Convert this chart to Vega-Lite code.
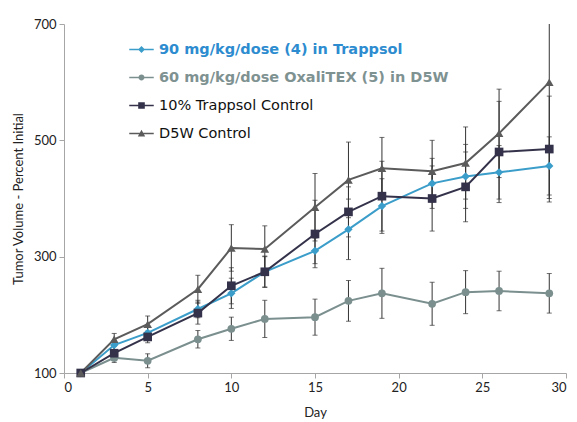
{
  "$schema": "https://vega.github.io/schema/vega-lite/v6.json",
  "width": 502,
  "height": 349,
  "autosize": "none",
  "padding": {"left": 64, "top": 24, "right": 11, "bottom": 49},
  "background": "white",
  "config": {"view": {"stroke": null}, "font": "Lato"},
  "data": {"values": [
    {"series": "90 mg/kg/dose (4) in Trappsol", "day": 1, "value": 100, "err": 0},
    {"series": "90 mg/kg/dose (4) in Trappsol", "day": 3, "value": 148, "err": 8},
    {"series": "90 mg/kg/dose (4) in Trappsol", "day": 5, "value": 169, "err": 12},
    {"series": "90 mg/kg/dose (4) in Trappsol", "day": 8, "value": 210, "err": 15},
    {"series": "90 mg/kg/dose (4) in Trappsol", "day": 10, "value": 237, "err": 26},
    {"series": "90 mg/kg/dose (4) in Trappsol", "day": 12, "value": 274, "err": 26},
    {"series": "90 mg/kg/dose (4) in Trappsol", "day": 15, "value": 310, "err": 22},
    {"series": "90 mg/kg/dose (4) in Trappsol", "day": 17, "value": 347, "err": 52},
    {"series": "90 mg/kg/dose (4) in Trappsol", "day": 19, "value": 387, "err": 47},
    {"series": "90 mg/kg/dose (4) in Trappsol", "day": 22, "value": 426, "err": 43},
    {"series": "90 mg/kg/dose (4) in Trappsol", "day": 24, "value": 438, "err": 55},
    {"series": "90 mg/kg/dose (4) in Trappsol", "day": 26, "value": 445, "err": 46},
    {"series": "90 mg/kg/dose (4) in Trappsol", "day": 29, "value": 456, "err": 50},
    {"series": "60 mg/kg/dose OxaliTEX (5) in D5W", "day": 1, "value": 100, "err": 0},
    {"series": "60 mg/kg/dose OxaliTEX (5) in D5W", "day": 3, "value": 126, "err": 8},
    {"series": "60 mg/kg/dose OxaliTEX (5) in D5W", "day": 5, "value": 121, "err": 12},
    {"series": "60 mg/kg/dose OxaliTEX (5) in D5W", "day": 8, "value": 158, "err": 15},
    {"series": "60 mg/kg/dose OxaliTEX (5) in D5W", "day": 10, "value": 176, "err": 20},
    {"series": "60 mg/kg/dose OxaliTEX (5) in D5W", "day": 12, "value": 193, "err": 32},
    {"series": "60 mg/kg/dose OxaliTEX (5) in D5W", "day": 15, "value": 196, "err": 31},
    {"series": "60 mg/kg/dose OxaliTEX (5) in D5W", "day": 17, "value": 224, "err": 35},
    {"series": "60 mg/kg/dose OxaliTEX (5) in D5W", "day": 19, "value": 237, "err": 43},
    {"series": "60 mg/kg/dose OxaliTEX (5) in D5W", "day": 22, "value": 219, "err": 37},
    {"series": "60 mg/kg/dose OxaliTEX (5) in D5W", "day": 24, "value": 239, "err": 37},
    {"series": "60 mg/kg/dose OxaliTEX (5) in D5W", "day": 26, "value": 241, "err": 34},
    {"series": "60 mg/kg/dose OxaliTEX (5) in D5W", "day": 29, "value": 237, "err": 34},
    {"series": "10% Trappsol Control", "day": 1, "value": 100, "err": 0},
    {"series": "10% Trappsol Control", "day": 3, "value": 134, "err": 12},
    {"series": "10% Trappsol Control", "day": 5, "value": 162, "err": 10},
    {"series": "10% Trappsol Control", "day": 8, "value": 203, "err": 19},
    {"series": "10% Trappsol Control", "day": 10, "value": 250, "err": 31},
    {"series": "10% Trappsol Control", "day": 12, "value": 274, "err": 27},
    {"series": "10% Trappsol Control", "day": 15, "value": 339, "err": 58},
    {"series": "10% Trappsol Control", "day": 17, "value": 377, "err": 43},
    {"series": "10% Trappsol Control", "day": 19, "value": 404, "err": 60},
    {"series": "10% Trappsol Control", "day": 22, "value": 400, "err": 56},
    {"series": "10% Trappsol Control", "day": 24, "value": 420, "err": 60},
    {"series": "10% Trappsol Control", "day": 26, "value": 480, "err": 87},
    {"series": "10% Trappsol Control", "day": 29, "value": 485, "err": 91},
    {"series": "D5W Control", "day": 1, "value": 100, "err": 0},
    {"series": "D5W Control", "day": 3, "value": 158, "err": 10},
    {"series": "D5W Control", "day": 5, "value": 184, "err": 14},
    {"series": "D5W Control", "day": 8, "value": 244, "err": 24},
    {"series": "D5W Control", "day": 10, "value": 315, "err": 40},
    {"series": "D5W Control", "day": 12, "value": 313, "err": 40},
    {"series": "D5W Control", "day": 15, "value": 385, "err": 58},
    {"series": "D5W Control", "day": 17, "value": 432, "err": 65},
    {"series": "D5W Control", "day": 19, "value": 452, "err": 53},
    {"series": "D5W Control", "day": 22, "value": 447, "err": 53},
    {"series": "D5W Control", "day": 24, "value": 461, "err": 62},
    {"series": "D5W Control", "day": 26, "value": 512, "err": 76},
    {"series": "D5W Control", "day": 29, "value": 600, "err": 200}
  ]},
  "encoding": {
    "x": {
      "field": "day", "type": "quantitative",
      "scale": {"domain": [0, 30], "nice": false},
      "axis": {
        "values": [0, 5, 10, 15, 20, 25, 30], "grid": false,
        "domainColor": "#a6a6a6", "tickColor": "#a6a6a6", "tickSize": 5,
        "labelFontSize": 13, "labelColor": "#222222", "labelPadding": 3,
        "title": "Day", "titleFontSize": 13, "titleFontWeight": "normal", "titleColor": "#222222", "titlePadding": 12
      }
    },
    "y": {
      "field": "value", "type": "quantitative",
      "scale": {"domain": [100, 700], "nice": false, "zero": false},
      "axis": {
        "values": [100, 300, 500, 700], "grid": false,
        "domainColor": "#a6a6a6", "tickColor": "#a6a6a6", "tickSize": 5,
        "labelFontSize": 13, "labelColor": "#222222", "labelPadding": 3,
        "title": "Tumor Volume - Percent Initial", "titleFontSize": 13, "titleFontWeight": "normal", "titleColor": "#222222", "titlePadding": 8
      }
    },
    "color": {
      "field": "series", "type": "nominal",
      "scale": {
        "domain": ["90 mg/kg/dose (4) in Trappsol", "60 mg/kg/dose OxaliTEX (5) in D5W", "10% Trappsol Control", "D5W Control"],
        "range": ["#3b9dc9", "#7b8f8f", "#33324a", "#5b5b5b"]
      },
      "legend": {
        "title": null, "orient": "none", "legendX": 65, "legendY": 13, "padding": 0,
        "labelFontSize": 14.5, "labelFont": "DejaVu Sans", "labelLimit": 500, "labelOffset": 5,
        "symbolSize": 600, "rowPadding": 9,
        "encode": {
          "symbols": {"update": {
            "shape": {"signal": "datum.value === '90 mg/kg/dose (4) in Trappsol' ? 'M-1,-0.06H1V0.06H-1Z M0,-0.28L0.28,0L0,0.28L-0.28,0Z' : datum.value === '60 mg/kg/dose OxaliTEX (5) in D5W' ? 'M-1,-0.06H1V0.06H-1Z M-0.24,0A0.24,0.24 0 1,1 0.24,0A0.24,0.24 0 1,1 -0.24,0Z' : datum.value === '10% Trappsol Control' ? 'M-1,-0.06H1V0.06H-1Z M-0.27,-0.27H0.27V0.27H-0.27Z' : 'M-1,-0.06H1V0.06H-1Z M0,-0.3L0.3,0.25H-0.3Z'"},
            "fill": {"scale": "color", "field": "value"},
            "stroke": {"value": "transparent"},
            "strokeWidth": {"value": 0},
            "size": {"value": 600},
            "opacity": {"value": 1}
          }},
          "labels": {"update": {
            "fill": {"signal": "datum.value === '90 mg/kg/dose (4) in Trappsol' ? '#2d8ccf' : datum.value === '60 mg/kg/dose OxaliTEX (5) in D5W' ? '#7f9292' : '#111111'"},
            "fontWeight": {"signal": "datum.value === '90 mg/kg/dose (4) in Trappsol' || datum.value === '60 mg/kg/dose OxaliTEX (5) in D5W' ? 'bold' : 'normal'"}
          }}
        }
      }
    }
  },
  "layer": [
    {
      "mark": {"type": "errorbar", "ticks": true, "clip": true, "color": "#333333"},
      "encoding": {"yError": {"field": "err"}, "color": {"value": "#333333"}}
    },
    {
      "mark": {"type": "line", "strokeWidth": 2}
    },
    {
      "transform": [{"filter": "datum.series === '90 mg/kg/dose (4) in Trappsol'"}],
      "mark": {"type": "point", "shape": "diamond", "filled": true, "opacity": 1, "size": 70}
    },
    {
      "transform": [{"filter": "datum.series === '60 mg/kg/dose OxaliTEX (5) in D5W'"}],
      "mark": {"type": "point", "shape": "circle", "filled": true, "opacity": 1, "size": 60}
    },
    {
      "transform": [{"filter": "datum.series === '10% Trappsol Control'"}],
      "mark": {"type": "point", "shape": "square", "filled": true, "opacity": 1, "size": 75}
    },
    {
      "transform": [{"filter": "datum.series === 'D5W Control'"}],
      "mark": {"type": "point", "shape": "triangle-up", "filled": true, "opacity": 1, "size": 75}
    }
  ]
}
